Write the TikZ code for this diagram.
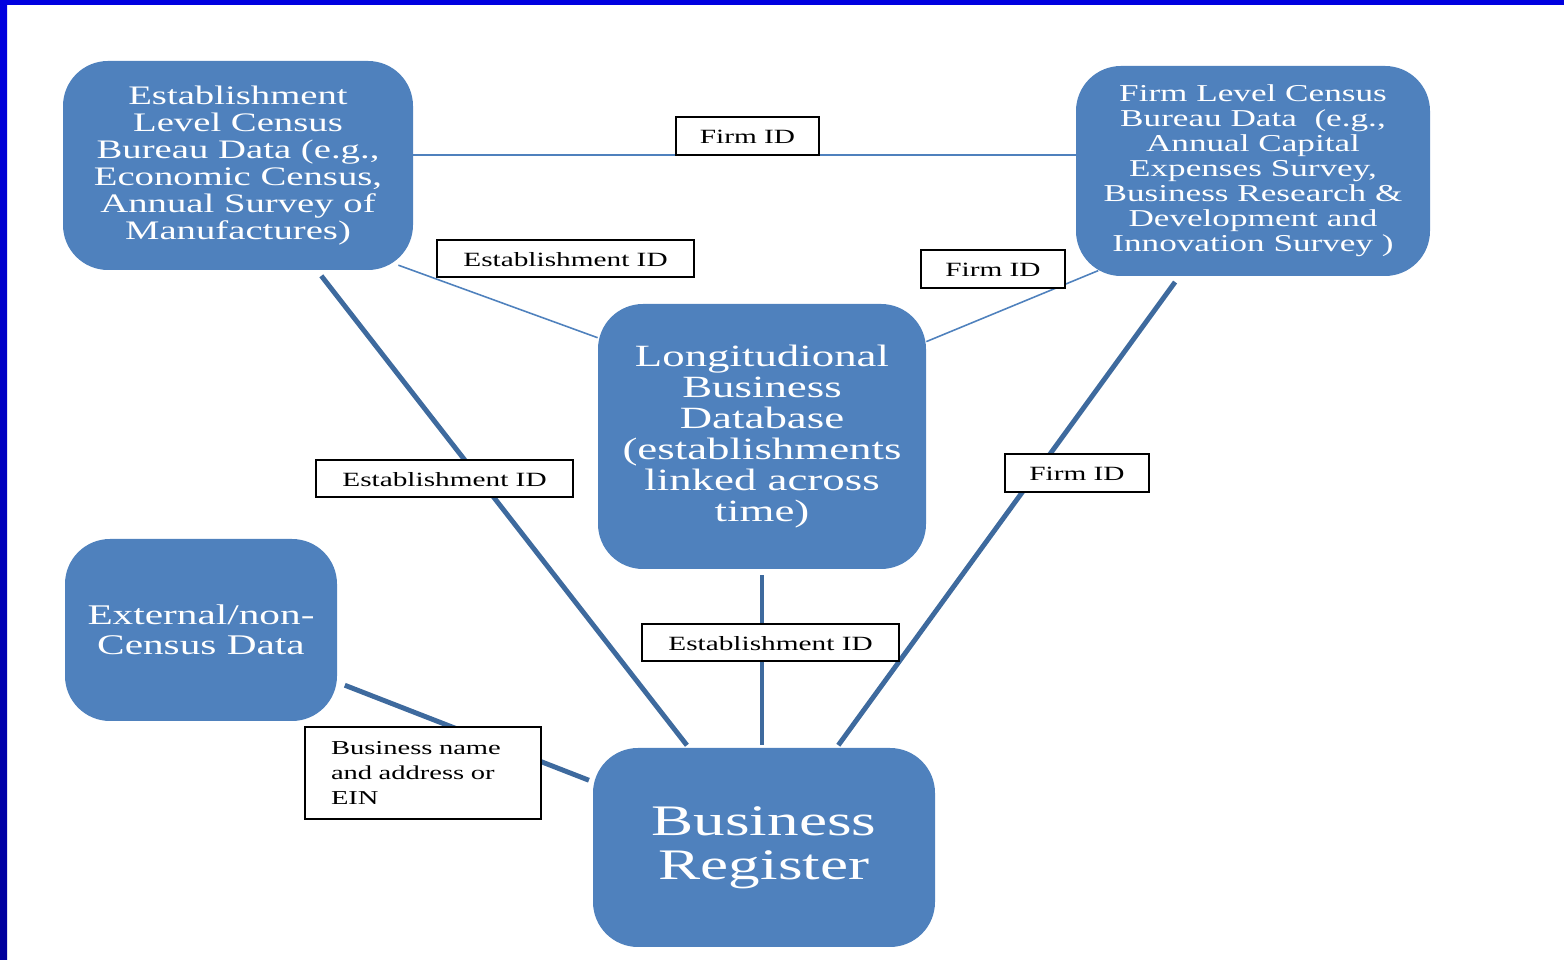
\documentclass[tikz,border=0pt]{standalone}
\usepackage{fontspec}
\setmainfont[FakeStretch=1.45]{Liberation Serif}
\usetikzlibrary{positioning}
\definecolor{boxblue}{HTML}{4F81BD}
\definecolor{linkblue}{HTML}{3E6A9E}
\definecolor{slideblue}{HTML}{0000E0}
\definecolor{slidedark}{HTML}{00009C}
\tikzset{
    databox/.style={rectangle, rounded corners=0.9cm, fill=boxblue, text=white, align=center, inner sep=0pt}, % the blue data sources
    idbox/.style={rectangle, draw=black, line width=1pt, fill=white, align=center, inner sep=0pt, minimum height=0.75cm, text height=0.9em, text depth=0pt, font=\fontsize{11.5}{14}\selectfont}, % the key labels on the links
    thinlink/.style={draw=boxblue, line width=0.9pt}, % links between census files
    thicklink/.style={draw=linkblue, line width=2.8pt}, % links to the register
}
\begin{document}
\begin{tikzpicture}
\useasboundingbox (0,0) rectangle (31.28,19.2);
% slide frame
\fill[slideblue] (0,19.1) rectangle (31.28,19.2);
\shade[top color=slideblue, bottom color=slidedark] (0,0) rectangle (0.14,19.2);

% data sources
\node[databox, minimum width=7cm, minimum height=4.18cm, font=\fontsize{15.2}{15.4}\selectfont] (estab) at (4.76,15.89) {Establishment\\ Level Census\\ Bureau Data (e.g.,\\ Economic Census,\\ Annual Survey of\\ Manufactures)};
\node[databox, minimum width=7.08cm, minimum height=4.2cm, font=\fontsize{13.8}{14.2}\selectfont] (firm) at (25.06,15.78) {Firm Level Census\\ Bureau Data\ \ (e.g.,\\ Annual Capital\\ Expenses Survey,\\ Business Research \&\\ Development and\\ Innovation Survey )};
\node[databox, minimum width=6.56cm, minimum height=5.3cm, font=\fontsize{17.6}{17.6}\selectfont] (lbd) at (15.24,10.47) {Longitudional\\ Business\\ Database\\ (establishments\\ linked across\\ time)};
\node[databox, minimum width=5.44cm, minimum height=3.64cm, font=\fontsize{16.2}{17}\selectfont] (ext) at (4.02,6.6) {External/non-\\ Census Data};
\node[databox, minimum width=6.84cm, minimum height=3.98cm, font=\fontsize{24.8}{25}\selectfont] (breg) at (15.28,2.25) {Business\\ Register};

% links
\draw[thinlink] ([yshift=0.21cm]estab.east) -- ([yshift=0.32cm]firm.west);
\draw[thinlink, shorten <=-0.3cm] (estab.-31) -- (lbd.149);
\draw[thinlink, shorten >=-0.3cm] (lbd.30) -- (firm.212);
\draw[thicklink, shorten <=0.14cm, shorten >=0.06cm] (estab.-53) -- (breg.127);
\draw[thicklink, shorten <=0.14cm, shorten >=0.06cm] (firm.235) -- (breg.54);
\draw[thicklink, shorten <=0.12cm, shorten >=0.06cm] (lbd.south) -- (lbd.south |- breg.north);
\draw[thicklink, shorten <=0.16cm, shorten >=0.08cm] (ext.-21) -- (breg.159);

% keys
\node[idbox, minimum width=2.86cm] (firmtop) at (14.95,16.48) {Firm ID};
\node[idbox, minimum width=5.14cm] (estup) at (11.31,14.03) {Establishment ID};
\node[idbox, minimum width=2.88cm] (firmup) at (19.86,13.82) {Firm ID};
\node[idbox, minimum width=5.14cm] (estleft) at (8.89,9.63) {Establishment ID};
\node[idbox, minimum width=2.88cm] (firmright) at (21.54,9.74) {Firm ID};
\node[idbox, minimum width=5.14cm] (estmid) at (15.41,6.35) {Establishment ID};
\node[idbox, minimum width=4.72cm, minimum height=1.84cm, text height={}, text depth={}, align=left, text width=3.68cm, font=\fontsize{11.2}{14.5}\selectfont] (bizname) at (8.46,3.74) {Business name\\ and address or\\ EIN};
\end{tikzpicture}
\end{document}
